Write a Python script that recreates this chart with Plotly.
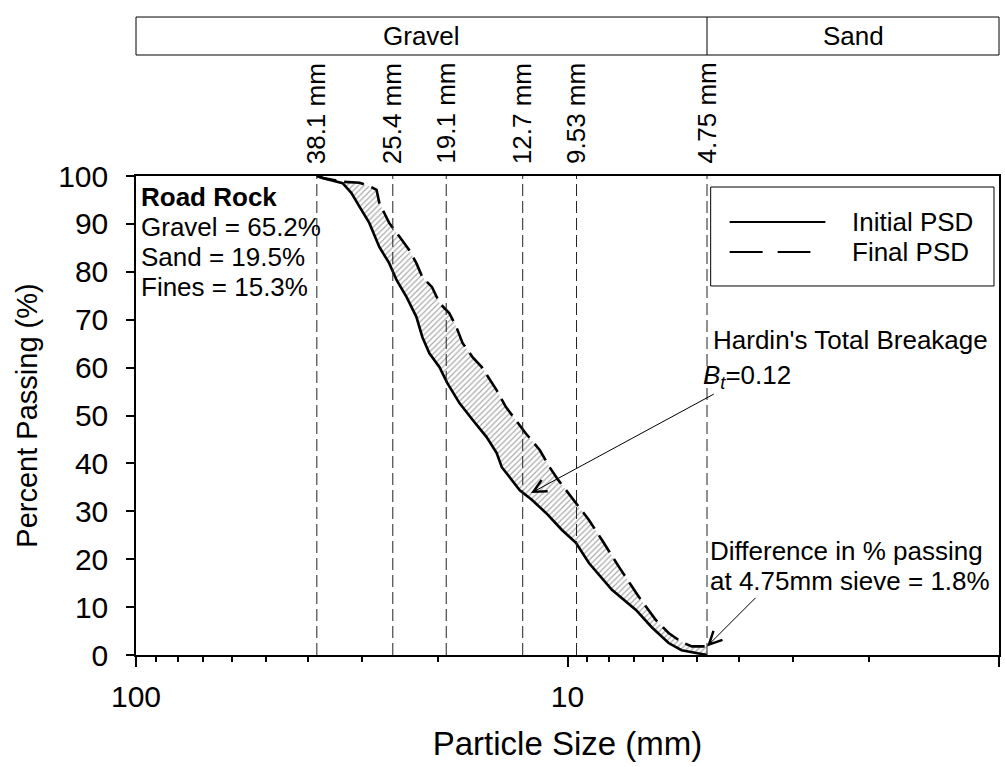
import math
import plotly.graph_objects as go

# Particle size distribution of the road rock before and after loading
initial_size = [38.1, 36.6, 33.2, 31.7, 30.3, 28.8, 27.3, 25.9, 24.9, 23.6, 22.4, 21.7,
                20.9, 19.8, 19.0, 17.8, 16.6, 15.4, 14.6, 14.2, 12.9, 12.1, 11.2, 10.3,
                9.56, 8.92, 7.89, 6.94, 6.38, 5.83, 5.44, 5.05, 4.75]
initial_pct = [100.0, 99.5, 98.5, 96.5, 93.5, 90.2, 85.2, 81.8, 78.3, 74.7, 70.6, 66.4,
               63.0, 60.1, 56.8, 52.6, 49.1, 45.5, 42.2, 39.2, 34.4, 32.4, 29.6, 26.1,
               23.4, 19.2, 13.6, 9.4, 5.8, 2.5, 1.0, 0.4, 0.0]

final_size = [38.1, 36.6, 33.2, 30.3, 28.5, 27.7, 27.3, 25.9, 24.5, 23.3, 22.4, 21.7,
              20.6, 19.8, 18.8, 18.1, 17.5, 16.6, 15.8, 14.6, 13.9, 13.2, 12.5, 11.6,
              11.0, 10.5, 9.56, 8.92, 8.32, 7.60, 6.83, 6.24, 5.83, 5.44, 5.15, 4.75]
final_pct = [100.0, 99.5, 98.8, 98.6, 97.7, 97.1, 94.4, 90.2, 87.3, 84.6, 81.8, 78.9,
             76.8, 73.5, 71.4, 68.5, 65.1, 62.2, 60.1, 55.3, 51.8, 49.1, 46.3, 42.8,
             39.2, 36.5, 31.7, 28.2, 24.0, 18.4, 12.1, 7.3, 4.6, 2.7, 1.8, 1.8]

sieve_sizes = [38.1, 25.4, 19.1, 12.7, 9.53, 4.75]
sieve_labels = ["38.1 mm", "25.4 mm", "19.1 mm", "12.7 mm", "9.53 mm", "4.75 mm"]
gravel_sand_boundary = 4.75

composition_lines = ["<b>Road Rock</b>", "Gravel = 65.2%", "Sand = 19.5%", "Fines = 15.3%"]
breakage_point = (12.15, 33.8)
sieve_diff_point = (4.75, 1.8)

series_names = ["Initial PSD", "Final PSD"]
series_dash = ["solid", "20px,8px"]
legend_dash = ["solid", "33px,15px"]

x_major = [100, 10, 1]
x_minor = [90, 80, 70, 60, 50, 40, 30, 20, 9, 8, 7, 6, 5, 4, 3, 2]
y_ticks = list(range(0, 101, 10))

FONT = "Arial, 'Liberation Sans', sans-serif"
TXT = dict(size=26, color="black")

fig = go.Figure()

# hatched band between the two gradation curves
fig.add_trace(go.Scatter(
    x=initial_size + final_size[::-1],
    y=initial_pct + final_pct[::-1],
    mode="lines", fill="toself",
    line=dict(width=0, color="rgba(0,0,0,0)"),
    fillcolor="white",
    fillpattern=dict(shape="/", fgcolor="#555555", bgcolor="white", size=4, solidity=0.3),
    showlegend=False, hoverinfo="skip",
))

for xs, ys, name, dash in zip([initial_size, final_size], [initial_pct, final_pct],
                              series_names, series_dash):
    fig.add_trace(go.Scatter(
        x=xs, y=ys, mode="lines", name=name, showlegend=False,
        line=dict(color="black", width=2.6, dash=dash),
    ))

shapes = []
annotations = []

# sieve reference lines with their labels above the plot
for s, lab in zip(sieve_sizes, sieve_labels):
    shapes.append(dict(type="line", xref="x", yref="y", x0=s, x1=s, y0=0, y1=100,
                       line=dict(color="#222222", width=1, dash="12px,5px")))
    annotations.append(dict(x=math.log10(s), xref="x", y=1.021, yref="paper",
                            text=lab, textangle=-90, showarrow=False,
                            xanchor="center", yanchor="bottom", font=TXT))

# soil classification band
band_y0, band_y1 = 1.2526, 1.3319
shapes.append(dict(type="rect", xref="paper", yref="paper", x0=0, x1=1,
                   y0=band_y0, y1=band_y1, line=dict(color="black", width=1)))
shapes.append(dict(type="line", xref="x", yref="paper", x0=gravel_sand_boundary,
                   x1=gravel_sand_boundary, y0=band_y0, y1=band_y1,
                   line=dict(color="black", width=1)))
band_mid = (band_y0 + band_y1) / 2
annotations.append(dict(x=(math.log10(x_major[0]) + math.log10(gravel_sand_boundary)) / 2,
                        xref="x", y=band_mid, yref="paper", text="Gravel",
                        xanchor="center", yanchor="middle", showarrow=False, font=TXT))
annotations.append(dict(x=(math.log10(gravel_sand_boundary) + math.log10(x_major[-1])) / 2,
                        xref="x", y=band_mid, yref="paper", text="Sand",
                        xanchor="center", yanchor="middle", showarrow=False, font=TXT))

# legend box
leg_x0, leg_x1, leg_y0, leg_y1 = 0.6659, 0.9942, 0.7704, 0.977
shapes.append(dict(type="rect", xref="paper", yref="paper", x0=leg_x0, x1=leg_x1,
                   y0=leg_y0, y1=leg_y1, line=dict(color="black", width=1),
                   fillcolor="white", layer="above"))
leg_rows = [0.904, 0.8413]
leg_line_end = [0.7988, 0.7815]
for name, dash, ly, lx1 in zip(series_names, legend_dash, leg_rows, leg_line_end):
    shapes.append(dict(type="line", xref="paper", yref="paper", x0=0.6879, x1=lx1,
                       y0=ly, y1=ly, line=dict(color="black", width=2, dash=dash),
                       layer="above"))
    annotations.append(dict(x=0.8277, xref="paper", y=ly, yref="paper", text=name,
                            showarrow=False, xanchor="left", yanchor="middle", font=TXT))

# sample composition
for i, line in enumerate(composition_lines):
    annotations.append(dict(x=0.004, xref="paper", y=0.956 - i * 0.0626, yref="paper",
                            text=line, showarrow=False, xanchor="left", yanchor="middle",
                            font=TXT))

# breakage annotation; the arrow leaves from the B_t label
annotations.append(dict(x=0.666, xref="paper", y=0.6576, yref="paper",
                        text="Hardin's Total Breakage", showarrow=False,
                        xanchor="left", yanchor="middle", font=TXT))
annotations.append(dict(x=math.log10(breakage_point[0]), xref="x",
                        y=breakage_point[1], yref="y",
                        text="<i>B</i><sub><i>t</i></sub>=0.12", showarrow=True,
                        ax=216, ay=-117, arrowhead=5, arrowsize=2.5, arrowwidth=1,
                        arrowcolor="black", font=TXT))

# difference at the 4.75 mm sieve
annotations.append(dict(x=0.6624, xref="paper", y=0.217, yref="paper",
                        text="Difference in % passing", showarrow=False,
                        xanchor="left", yanchor="middle", font=TXT))
annotations.append(dict(x=0.6624, xref="paper", y=0.1545, yref="paper",
                        text="at 4.75mm sieve = 1.8%", showarrow=False,
                        xanchor="left", yanchor="middle", font=TXT))
annotations.append(dict(x=math.log10(sieve_diff_point[0]), xref="x",
                        y=sieve_diff_point[1], yref="y", text="", showarrow=True,
                        ax=50, ay=-50, arrowhead=5, arrowsize=2.5, arrowwidth=1,
                        arrowcolor="black"))

fig.update_layout(
    width=1005, height=767,
    margin=dict(l=136, r=4, t=176, b=112),
    paper_bgcolor="white", plot_bgcolor="white",
    font=dict(family=FONT, size=26, color="black"),
    shapes=shapes, annotations=annotations,
    showlegend=False,
)

fig.update_xaxes(
    type="log", range=[math.log10(x_major[0]), math.log10(x_major[-1])],
    tickvals=x_major, ticktext=[str(v) for v in x_major],
    ticks="outside", ticklen=10, tickwidth=1.5, tickcolor="black",
    ticklabelstandoff=4,
    minor=dict(tickvals=x_minor, ticks="outside", ticklen=5, tickwidth=1.5, tickcolor="black"),
    showline=True, linecolor="black", linewidth=1.5, mirror=True,
    showgrid=False, zeroline=False,
    tickfont=dict(size=30),
    title=dict(text="Particle Size (mm)", font=dict(size=33), standoff=20),
)
fig.update_yaxes(
    range=[0, 100], tickvals=y_ticks,
    ticks="outside", ticklen=8, tickwidth=1.5, tickcolor="black",
    ticklabelstandoff=12,
    showline=True, linecolor="black", linewidth=1.5, mirror=True,
    showgrid=False, zeroline=False,
    tickfont=dict(size=30),
    title=dict(text="Percent Passing (%)", font=dict(size=29), standoff=12),
)

fig.write_html("out.html")
